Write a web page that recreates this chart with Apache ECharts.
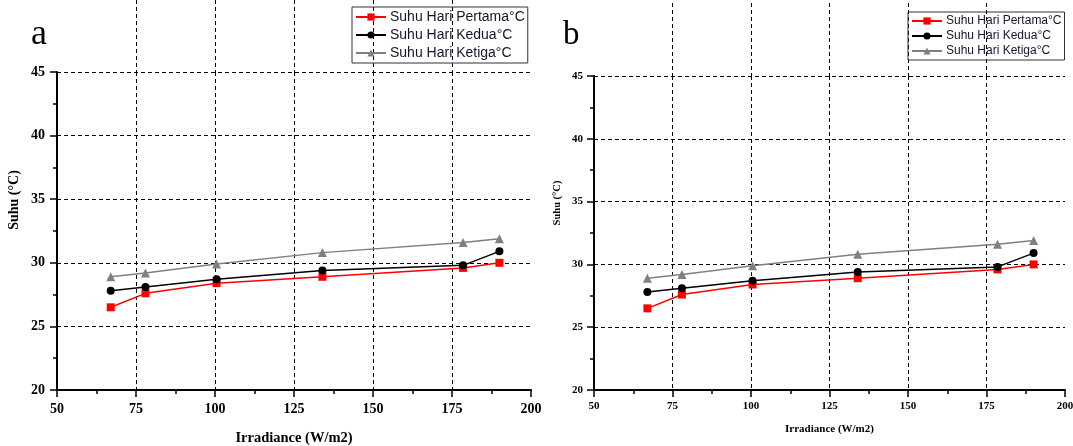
<!DOCTYPE html>
<html><head><meta charset="utf-8">
<script src="https://cdn.jsdelivr.net/npm/echarts@6/dist/echarts.min.js"></script>
<style>html,body{margin:0;padding:0;background:#fff}#c{width:1073px;height:446px}</style>
</head><body><div id="c"></div>
<script>
const irradiance = [67, 78, 100.5, 134, 178.5, 190];
const suhuPertama = [26.5, 27.6, 28.4, 28.9, 29.6, 30.0];
const suhuKedua = [27.8, 28.1, 28.7, 29.4, 29.8, 30.9];
const suhuKetiga = [28.9, 29.2, 29.9, 30.8, 31.6, 31.9];
const seriesNames = ['Suhu Hari Pertama°C', 'Suhu Hari Kedua°C', 'Suhu Hari Ketiga°C'];
const panelLabels = ['a', 'b'];
const xTitle = 'Irradiance (W/m2)';
const yTitle = 'Suhu (°C)';

const pairs = v => irradiance.map((x, i) => [x, v[i]]);
const styles = [
  {color: '#ff0000', symbol: 'rect', size: 8},
  {color: '#000000', symbol: 'circle', size: 8},
  {color: '#808080', symbol: 'triangle', size: 9}
];
const values = [suhuPertama, suhuKedua, suhuKetiga];

const panels = [
  {left: 57, width: 474, top: 72, bottom: 56, font: 14, nameFont: 14.5, titleFont: 14, xGap: 41, xMargin: 12, yMargin: 12,
   major: 7, minor: 4, yTitlePos: [14, 200],
   legend: {left: 352, top: 7, font: 14, gap: 4}, ext: 0, letter: {x: 31, y: 53, size: 36}},
  {left: 594, width: 471, top: 76, bottom: 56, font: 11, nameFont: 11, titleFont: 10.5, xGap: 34, xMargin: 11, yMargin: 11,
   major: 7, minor: 4, yTitlePos: [557, 203],
   legend: {left: 908, top: 12, font: 12, gap: 3}, ext: 3, letter: {x: 563, y: 52, size: 33}}
];

const grid = [], xAxis = [], yAxis = [], series = [], legend = [], graphic = [];
const dashed = {color: '#000', type: [4, 3], width: 1};
panels.forEach((p, k) => {
  grid.push({left: p.left, width: p.width, top: p.top, bottom: p.bottom, outerBoundsMode: 'none', containLabel: false});
  const gi = grid.length - 1;
  xAxis.push({
    type: 'value', gridIndex: gi, min: 50, max: 200, interval: 25,
    name: xTitle, nameLocation: 'middle', nameGap: p.xGap,
    nameTextStyle: {fontFamily: 'Liberation Serif', fontWeight: 'bold', fontSize: p.nameFont, color: '#000'},
    axisLine: {show: true, onZero: false, lineStyle: {color: '#000', width: 2}},
    axisTick: {show: true, length: p.major, lineStyle: {color: '#000', width: 1.5}},
    minorTick: {show: true, splitNumber: 2, length: p.minor, lineStyle: {color: '#000', width: 1.5}},
    axisLabel: {fontFamily: 'Liberation Serif', fontWeight: 'bold', fontSize: p.font, color: '#000', margin: p.xMargin},
    splitLine: {show: true, showMinLine: false, showMaxLine: false, lineStyle: dashed}
  });
  yAxis.push({
    type: 'value', gridIndex: gi, min: 20, max: 45, interval: 5,
    axisLine: {show: true, onZero: false, lineStyle: {color: '#000', width: 2}},
    axisTick: {show: true, length: p.major, lineStyle: {color: '#000', width: 1.5}},
    minorTick: {show: true, splitNumber: 2, length: p.minor, lineStyle: {color: '#000', width: 1.5}},
    axisLabel: {fontFamily: 'Liberation Serif', fontWeight: 'bold', fontSize: p.font, color: '#000', margin: p.yMargin},
    splitLine: {show: true, showMinLine: false, lineStyle: dashed}
  });
  values.forEach((v, s) => {
    series.push({
      type: 'line', name: seriesNames[s], xAxisIndex: gi, yAxisIndex: gi,
      data: pairs(v), symbol: styles[s].symbol, symbolSize: styles[s].size,
      lineStyle: {color: styles[s].color, width: 1.5},
      itemStyle: {color: styles[s].color},
      z: s === 2 ? 4 : 5 + (s === 1 ? 1 : 0)
    });
  });
  // vertical grid lines continue above the plot area
  grid.push({left: p.left, width: p.width, top: p.ext, height: p.top - p.ext, outerBoundsMode: 'none', containLabel: false});
  const ge = grid.length - 1;
  xAxis.push({
    type: 'value', gridIndex: ge, min: 50, max: 200, interval: 25,
    axisLine: {show: false}, axisTick: {show: false}, axisLabel: {show: false},
    splitLine: {show: true, showMinLine: false, showMaxLine: false, lineStyle: dashed}
  });
  yAxis.push({type: 'value', gridIndex: ge, min: 0, max: 1, show: false, splitLine: {show: false}});

  legend.push({
    left: p.legend.left, top: p.legend.top, orient: 'vertical',
    data: seriesNames, borderColor: '#333', borderWidth: 1, padding: [3, 3, 3, 3],
    itemGap: p.legend.gap, itemWidth: 30, itemHeight: 9,
    textStyle: {fontFamily: 'Liberation Sans', fontSize: p.legend.font, color: '#15152a', padding: [0, 0, 0, -1]},
    backgroundColor: 'transparent', selectedMode: false
  });
  graphic.push({
    type: 'text', x: p.letter.x, y: p.letter.y,
    style: {text: panelLabels[k], font: p.letter.size + 'px "Liberation Serif"', fill: '#000', verticalAlign: 'bottom', align: 'left'}
  });
  graphic.push({
    type: 'text', x: p.yTitlePos[0], y: p.yTitlePos[1], rotation: Math.PI / 2,
    style: {text: yTitle, font: 'bold ' + p.titleFont + 'px "Liberation Serif"', fill: '#000', align: 'center', verticalAlign: 'middle'}
  });
});

const chart = echarts.init(document.getElementById('c'), null, {renderer: 'canvas'});
chart.setOption({animation: false, grid, xAxis, yAxis, series, legend, graphic});
</script></body></html>
